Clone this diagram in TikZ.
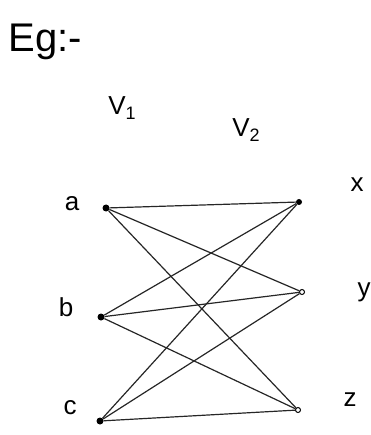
\documentclass[tikz,border=0pt]{standalone}
\usepackage{fontspec}
\setmainfont{Liberation Sans}
\newcommand{\mysub}[1]{\raisebox{-5pt}{\fontsize{18}{20}\selectfont #1}}
\begin{document}
\begin{tikzpicture}[x=1pt,y=-1pt,
  vtx/.style={circle,fill=black,inner sep=0pt,minimum size=7pt},
  hol/.style={circle,draw=black,fill=white,line width=1pt,inner sep=0pt,minimum size=5pt},
  lbl/.style={font=\fontsize{26}{28}\selectfont,inner sep=0pt},
  edge/.style={line width=1.2pt,draw=black!85}]
\useasboundingbox (0,0) rectangle (370,435);
\node[font=\fontsize{40}{44}\selectfont,inner sep=0pt] (eg) at (45,42) {Eg:-};
\node[lbl] (v1) at (122,108) {V\mysub{1}};
\node[lbl] (v2) at (246,130) {V\mysub{2}};
\node[vtx] (a) at (106,208) {};
\node[vtx] (b) at (101,317) {};
\node[vtx] (c) at (100,421) {};
\node[vtx,minimum size=6pt] (x) at (299,202) {};
\node[hol] (y) at (302,292) {};
\node[hol] (z) at (298,410) {};
\node[lbl] (la) at (72,204) {a};
\node[lbl] (lb) at (66,307) {b};
\node[lbl] (lc) at (70,408) {c};
\node[lbl] (lx) at (357,185) {x};
\node[lbl] (ly) at (364,292) {y};
\node[lbl] (lz) at (350,400) {z};
\foreach \s in {a,b,c}{
  \foreach \t in {x,y,z}{
    \draw[edge] (\s) -- (\t);
  }
}
\end{tikzpicture}
\end{document}
